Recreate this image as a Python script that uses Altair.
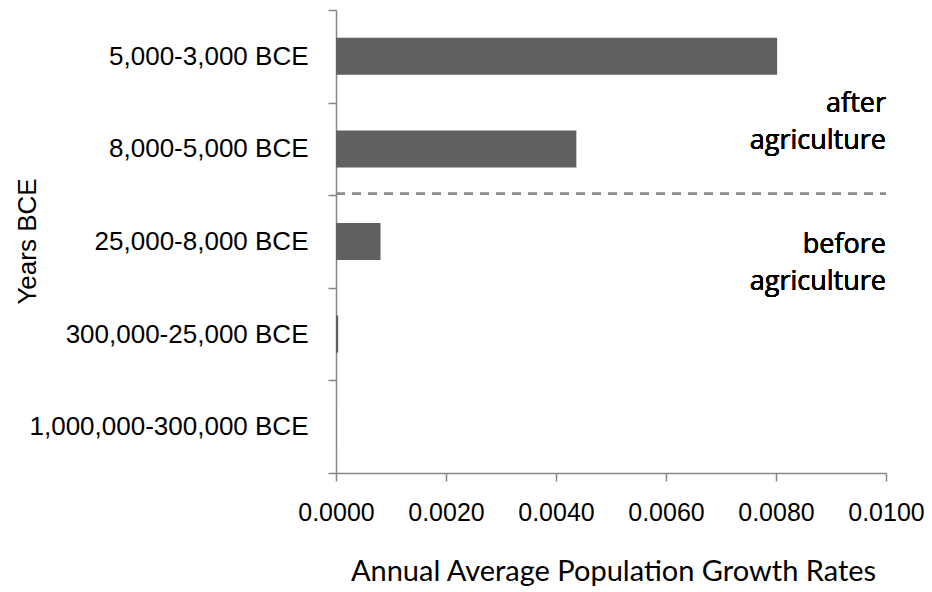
import altair as alt
import pandas as pd

periods = [
    "5,000-3,000 BCE",
    "8,000-5,000 BCE",
    "25,000-8,000 BCE",
    "300,000-25,000 BCE",
    "1,000,000-300,000 BCE",
]
growth = [0.00802, 0.00437, 0.00081, 0.00004, 0.000003]
x_ticks = [0.0, 0.002, 0.004, 0.006, 0.008, 0.010]

df = pd.DataFrame({"period": periods, "rate": growth})

W, H = 550, 463
STEP = H / len(periods)
AXIS_GRAY = "#868686"

y_scale = alt.Scale(domain=periods, paddingInner=0, paddingOuter=0)
x_scale = alt.Scale(domain=[0, 0.01], nice=False)

bars = alt.Chart(df).mark_bar(
    color="#606060", height=alt.RelativeBandSize(0.4)
).encode(
    x=alt.X(
        "rate:Q",
        scale=x_scale,
        axis=alt.Axis(
            values=x_ticks,
            format=".4f",
            title="Annual Average Population Growth Rates",
            grid=False,
            domainColor=AXIS_GRAY,
            domainWidth=1.5,
            tickColor=AXIS_GRAY,
            tickWidth=1.5,
            tickSize=8,
            labelFont="Liberation Sans",
            labelFontSize=25,
            labelColor="#000000",
            labelPadding=19,
            labelFlush=False,
            titleFont="Lato",
            titleFontSize=29,
            titleFontWeight=400,
            titleColor="#000000",
            titleX=277,
            titleY=107,
            titleBaseline="alphabetic",
        ),
    ),
    y=alt.Y(
        "period:N",
        sort=periods,
        scale=y_scale,
        axis=alt.Axis(
            title="Years BCE",
            tickBand="extent",
            grid=False,
            domainColor=AXIS_GRAY,
            domainWidth=1.5,
            tickColor=AXIS_GRAY,
            tickWidth=1.5,
            tickSize=8,
            labelFont="Liberation Sans",
            labelFontSize=26,
            labelColor="#000000",
            labelPadding=20,
            labelLimit=400,
            titleFont="Liberation Sans",
            titleFontSize=26,
            titleFontWeight="normal",
            titleColor="#000000",
            titleAngle=270,
            titleBaseline="middle",
            titleX=-309,
            titleY=231,
        ),
    ),
)

divider = alt.Chart(df).mark_rule(
    color="#8c8c8c", strokeWidth=2, strokeDash=[9, 7], yOffset=STEP / 2 - 1.5
).encode(
    x=alt.datum(0.0),
    x2=alt.datum(0.01),
    y=alt.datum(periods[1]),
)

def label(text, cat, dy):
    return alt.Chart(df).mark_text(
        text=text,
        align="right",
        baseline="alphabetic",
        font="Open Sans",
        fontSize=27,
        fontWeight=400,
        color="#000000",
        dy=dy,
    ).encode(x=alt.datum(0.01), y=alt.datum(cat))

chart = alt.layer(
    bars,
    divider,
    label("after", periods[1], -37),
    label("agriculture", periods[1], 0),
    label("before", periods[2], 11.5),
    label("agriculture", periods[2], 48.5),
).properties(
    width=W,
    height=H,
    autosize=alt.AutoSizeParams(type="none"),
    padding={"left": 328, "top": 2, "right": 38, "bottom": 118},
).configure_view(stroke=None)

chart.save("out.html", embed_options={"renderer": "svg", "actions": False})
